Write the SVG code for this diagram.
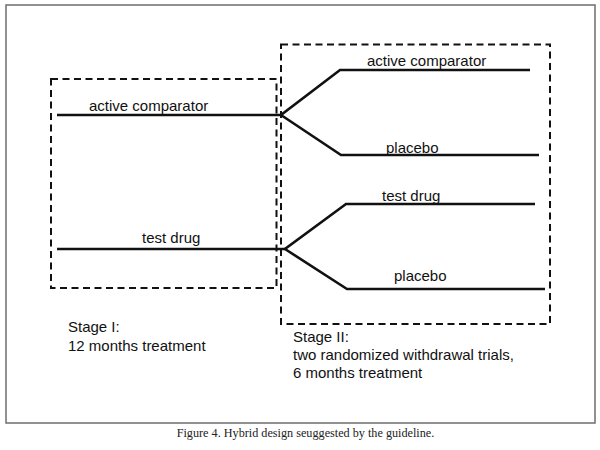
<svg xmlns="http://www.w3.org/2000/svg" width="600" height="450" viewBox="0 0 600 450">
<style>
.frame{fill:#fff;stroke:#6e6e6e;stroke-width:1.5}
.box{fill:none;stroke:#111;stroke-width:2;stroke-dasharray:7 4.5}
.arm{fill:none;stroke:#111;stroke-width:2.6;stroke-linejoin:miter}
.lbl{font-family:"Liberation Sans",Arial,sans-serif;font-size:15px;fill:#111}
.cap{font-family:"Liberation Serif","Times New Roman",serif;font-size:12.2px;fill:#222}
</style>
<rect x="0" y="0" width="600" height="450" fill="#fff"/>
<rect class="frame" x="6" y="5" width="589" height="418"/>
<g id="stage1">
<rect class="box" x="51" y="79" width="225.5" height="209"/>
<text class="lbl" x="68" y="332">Stage I:</text>
<text class="lbl" x="68" y="351">12 months treatment</text>
</g>
<g id="stage2">
<rect class="box" x="281" y="44.5" width="269" height="279.5"/>
<text class="lbl" x="293" y="342">Stage II:</text>
<text class="lbl" x="293" y="360">two randomized withdrawal trials,</text>
<text class="lbl" x="293" y="378">6 months treatment</text>
</g>
<g id="connectors">
<polyline class="arm" points="57,115 281,115"/>
<polyline class="arm" points="530,70 340,70 281,115 341,155 539,155"/>
<polyline class="arm" points="57,249 285,249"/>
<polyline class="arm" points="535,204 346,204 285,249 347,289 545,289"/>
</g>
<g id="labels">
<text class="lbl" x="89" y="111">active comparator</text>
<text class="lbl" x="367" y="66">active comparator</text>
<text class="lbl" x="386" y="153">placebo</text>
<text class="lbl" x="142" y="243">test drug</text>
<text class="lbl" x="382" y="201">test drug</text>
<text class="lbl" x="394" y="281">placebo</text>
</g>
<text class="cap" x="305.5" y="437" text-anchor="middle">Figure 4. Hybrid design seuggested by the guideline.</text>
</svg>
